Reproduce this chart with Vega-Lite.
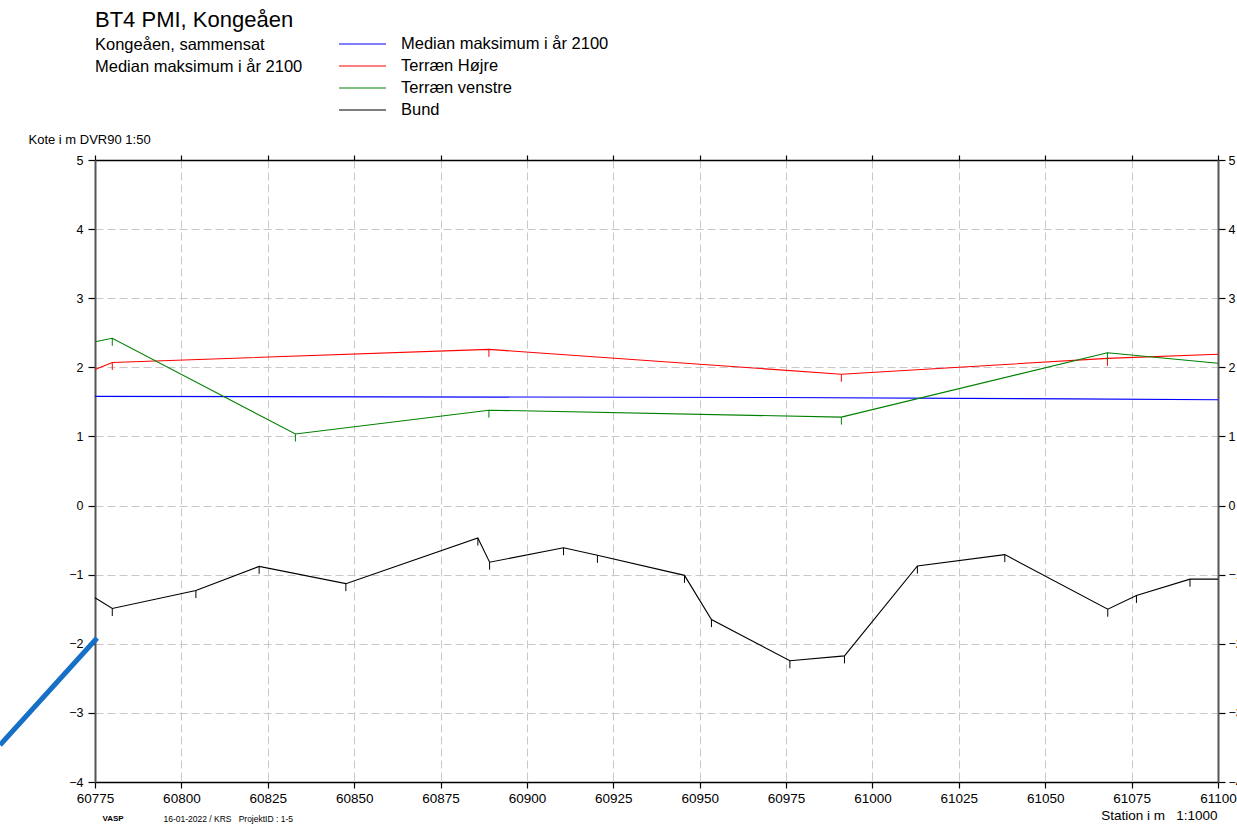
{
  "$schema": "https://vega.github.io/schema/vega-lite/v6.json",
  "width": 1123,
  "height": 622,
  "autosize": {"type": "none"},
  "padding": {"left": 95, "top": 160, "right": 19, "bottom": 46},
  "background": "white",
  "title": {
    "text": "BT4 PMI, Kongeåen",
    "subtitle": ["Kongeåen, sammensat", "Median maksimum i år 2100"],
    "anchor": "start",
    "frame": "group",
    "font": "Liberation Sans",
    "fontSize": 22,
    "fontWeight": "normal",
    "color": "#000000",
    "subtitleFont": "Liberation Sans",
    "subtitleFontSize": 16.5,
    "subtitleColor": "#000000",
    "subtitleLineHeight": 22,
    "subtitlePadding": 5,
    "offset": -43
  },
  "datasets": {
    "profil": [
      {"station": 60775, "kote": 1.58, "serie": "Median maksimum i år 2100"},
      {"station": 60972, "kote": 1.563, "serie": "Median maksimum i år 2100"},
      {"station": 61057, "kote": 1.544, "serie": "Median maksimum i år 2100"},
      {"station": 61100, "kote": 1.53, "serie": "Median maksimum i år 2100"},
      {"station": 60775, "kote": 1.97, "serie": "Terræn Højre"},
      {"station": 60780, "kote": 2.07, "serie": "Terræn Højre"},
      {"station": 60889, "kote": 2.26, "serie": "Terræn Højre"},
      {"station": 60991, "kote": 1.9, "serie": "Terræn Højre"},
      {"station": 61068, "kote": 2.13, "serie": "Terræn Højre"},
      {"station": 61100, "kote": 2.19, "serie": "Terræn Højre"},
      {"station": 60775, "kote": 2.37, "serie": "Terræn venstre"},
      {"station": 60780, "kote": 2.42, "serie": "Terræn venstre"},
      {"station": 60833, "kote": 1.035, "serie": "Terræn venstre"},
      {"station": 60889, "kote": 1.38, "serie": "Terræn venstre"},
      {"station": 60991, "kote": 1.28, "serie": "Terræn venstre"},
      {"station": 61068, "kote": 2.21, "serie": "Terræn venstre"},
      {"station": 61100, "kote": 2.06, "serie": "Terræn venstre"},
      {"station": 60775, "kote": -1.335, "serie": "Bund"},
      {"station": 60780, "kote": -1.49, "serie": "Bund"},
      {"station": 60804.2, "kote": -1.23, "serie": "Bund"},
      {"station": 60822.5, "kote": -0.88, "serie": "Bund"},
      {"station": 60847.6, "kote": -1.13, "serie": "Bund"},
      {"station": 60885.8, "kote": -0.47, "serie": "Bund"},
      {"station": 60889.2, "kote": -0.82, "serie": "Bund"},
      {"station": 60910.6, "kote": -0.61, "serie": "Bund"},
      {"station": 60920.4, "kote": -0.72, "serie": "Bund"},
      {"station": 60945.6, "kote": -1.01, "serie": "Bund"},
      {"station": 60953.4, "kote": -1.65, "serie": "Bund"},
      {"station": 60976.1, "kote": -2.245, "serie": "Bund"},
      {"station": 60991.9, "kote": -2.175, "serie": "Bund"},
      {"station": 61013, "kote": -0.875, "serie": "Bund"},
      {"station": 61038.3, "kote": -0.71, "serie": "Bund"},
      {"station": 61068.1, "kote": -1.5, "serie": "Bund"},
      {"station": 61076.4, "kote": -1.3, "serie": "Bund"},
      {"station": 61091.9, "kote": -1.065, "serie": "Bund"},
      {"station": 61100, "kote": -1.065, "serie": "Bund"}
    ],
    "markering": [
      {"station": 60747.5, "kote": -3.465},
      {"station": 60775.6, "kote": -1.917}
    ]
  },
  "layer": [
    {
      "data": {"name": "profil"},
      "mark": {"type": "line", "strokeWidth": 1.1, "clip": false},
      "encoding": {
        "x": {
          "field": "station",
          "type": "quantitative",
          "scale": {"domain": [60775, 61100], "nice": false, "zero": false},
          "axis": {
            "orient": "bottom",
            "values": [60775, 60800, 60825, 60850, 60875, 60900, 60925, 60950, 60975, 61000, 61025, 61050, 61075, 61100],
            "format": "d",
            "grid": true,
            "gridColor": "#c8c8c8",
            "gridDash": [8, 4],
            "gridWidth": 1,
            "domainColor": "#000000",
            "domainWidth": 1.5,
            "tickColor": "#000000",
            "tickSize": 6,
            "tickWidth": 1.2,
            "labelFontSize": 13.5,
            "labelPadding": 3,
            "labelFlush": false,
            "labelOverlap": false,
            "labelBound": false,
            "title": "Station i m\u00a0\u00a0\u00a01:1000",
            "titleFontSize": 13.5,
            "titleFontWeight": "normal",
            "titleX": 1122,
            "titleY": 33,
            "titleAlign": "right",
            "titleBaseline": "middle",
            "titleAngle": 0
          }
        },
        "y": {
          "field": "kote",
          "type": "quantitative",
          "scale": {"domain": [-4, 5], "nice": false, "zero": false},
          "axis": {
            "orient": "left",
            "values": [-4, -3, -2, -1, 0, 1, 2, 3, 4, 5],
            "format": "d",
            "grid": true,
            "gridColor": "#c8c8c8",
            "gridDash": [8, 4],
            "gridWidth": 1,
            "domainColor": "#555555",
            "domainWidth": 2,
            "tickColor": "#000000",
            "tickSize": 7,
            "tickWidth": 1.2,
            "labelFontSize": 12.5,
            "labelPadding": 5,
            "labelOverlap": false,
            "labelBound": false,
            "labelFlush": false,
            "title": "Kote i m DVR90 1:50",
            "titleFontSize": 13,
            "titleFontWeight": "normal",
            "titleAngle": 0,
            "titleX": -67,
            "titleY": -21,
            "titleAlign": "left",
            "titleBaseline": "middle"
          }
        },
        "color": {
          "field": "serie",
          "type": "nominal",
          "scale": {
            "domain": ["Median maksimum i år 2100", "Terræn Højre", "Terræn venstre", "Bund"],
            "range": ["#0000ff", "#ff0000", "#008000", "#000000"]
          },
          "legend": {
            "orient": "none",
            "legendX": 243,
            "legendY": -127,
            "title": null,
            "symbolType": "stroke",
            "symbolSize": 2209,
            "symbolStrokeWidth": 1.2,
            "labelFontSize": 16.5,
            "labelFont": "Liberation Sans",
            "labelColor": "#000000",
            "labelOffset": 14,
            "labelLimit": 400,
            "clipHeight": 22,
            "rowPadding": 0,
            "padding": 0
          }
        }
      }
    },
    {
      "data": {"name": "profil"},
      "transform": [
        {"filter": "datum.serie !== 'Median maksimum i år 2100' && datum.station > 60775 && datum.station < 61100"}
      ],
      "mark": {"type": "point", "shape": "M0,0L0,1", "filled": false, "size": 225, "strokeWidth": 1, "opacity": 1},
      "encoding": {
        "x": {
          "field": "station",
          "type": "quantitative",
          "scale": {"domain": [60775, 61100], "nice": false, "zero": false},
          "axis": {
            "orient": "top",
            "values": [60775, 60800, 60825, 60850, 60875, 60900, 60925, 60950, 60975, 61000, 61025, 61050, 61075, 61100],
            "labels": false,
            "grid": false,
            "domainColor": "#000000",
            "domainWidth": 1.5,
            "tickColor": "#000000",
            "tickSize": 5,
            "tickWidth": 1.2,
            "title": "16-01-2022 / KRS\u00a0\u00a0\u00a0ProjektID : 1-5",
            "titleFontSize": 8.5,
            "titleFontWeight": "normal",
            "titleX": 68,
            "titleY": 658,
            "titleAlign": "left",
            "titleBaseline": "middle",
            "titleAngle": 0
          }
        },
        "y": {
          "field": "kote",
          "type": "quantitative",
          "scale": {"domain": [-4, 5], "nice": false, "zero": false},
          "axis": {
            "orient": "right",
            "values": [-4, -3, -2, -1, 0, 1, 2, 3, 4, 5],
            "format": "d",
            "grid": false,
            "domainColor": "#555555",
            "domainWidth": 2,
            "tickColor": "#000000",
            "tickSize": 7,
            "tickWidth": 1.2,
            "labelFontSize": 12.5,
            "labelPadding": 3,
            "labelOverlap": false,
            "labelBound": false,
            "labelFlush": false,
            "title": "VASP",
            "titleFontSize": 8,
            "titleFontWeight": "bold",
            "titleAngle": 0,
            "titleX": -1116,
            "titleY": 658,
            "titleAlign": "left",
            "titleBaseline": "middle"
          }
        },
        "color": {
          "field": "serie",
          "type": "nominal",
          "scale": {
            "domain": ["Median maksimum i år 2100", "Terræn Højre", "Terræn venstre", "Bund"],
            "range": ["#0000ff", "#ff0000", "#008000", "#000000"]
          },
          "legend": null
        }
      }
    },
    {
      "data": {"name": "markering"},
      "mark": {"type": "line", "strokeWidth": 5, "color": "#1570c6", "clip": false, "strokeCap": "butt"},
      "encoding": {
        "x": {"field": "station", "type": "quantitative", "scale": {"domain": [60775, 61100], "nice": false, "zero": false}, "axis": null},
        "y": {"field": "kote", "type": "quantitative", "scale": {"domain": [-4, 5], "nice": false, "zero": false}, "axis": null}
      }
    }
  ],
  "resolve": {"axis": {"x": "independent", "y": "independent"}},
  "config": {
    "font": "Liberation Sans",
    "view": {"stroke": null},
    "axis": {"labelFont": "Liberation Sans", "titleFont": "Liberation Sans", "labelColor": "#000000", "titleColor": "#000000"}
  }
}
